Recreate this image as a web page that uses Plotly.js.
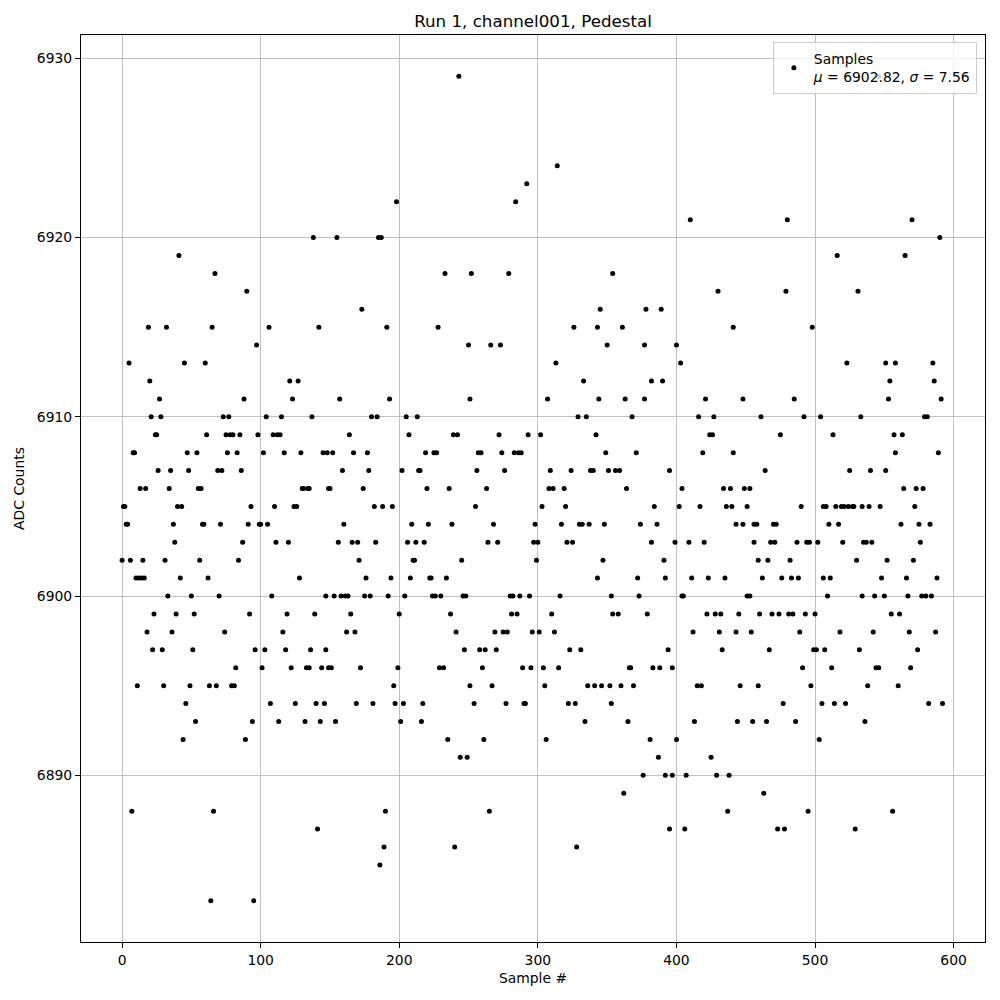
<!DOCTYPE html>
<html>
<head>
<meta charset="utf-8">
<script src="https://cdn.plot.ly/plotly-3.0.1.min.js"></script>
<style>body{margin:0;padding:0;background:#fff;}#chart{width:1000px;height:1000px;}</style>
</head>
<body>
<div id="chart"></div>
<script>
// Sample numbers (x) and ADC counts (y), in blocks of ~50 samples
const sampleNumbers = [
  0,1,2,3,4,5,6,7,8,9,10,11,12,13,14,15,16,17,18,19,20,21,22,23,24,25,26,27,28,29,30,31,32,33,34,35,36,37,38,39,40,41,42,43,44,45,46,47,48,
  49,50,51,52,53,54,55,56,57,58,59,60,61,62,63,64,65,66,67,68,69,70,71,72,73,74,75,76,77,78,79,80,81,82,83,84,85,86,87,88,89,90,91,92,93,94,95,96,97,98,99,
  100,101,102,103,104,105,106,107,108,109,110,111,112,113,114,115,116,117,118,119,120,121,122,123,124,125,126,127,128,129,130,131,132,133,134,135,135,136,137,138,139,140,141,142,143,144,145,146,147,147,148,149,149,
  150,151,152,153,154,155,156,157,158,159,160,161,162,163,164,165,166,167,168,169,170,171,172,173,174,175,176,177,178,179,180,181,182,183,184,185,186,187,188,189,190,191,192,193,194,195,196,197,198,199,200,201,
  202,203,204,205,206,207,208,209,210,211,212,213,214,215,216,217,218,219,220,221,222,223,224,225,226,227,228,229,230,232,233,234,235,236,237,238,239,240,241,242,243,244,245,246,247,248,249,250,251,252,251,
  254,255,256,257,258,259,260,261,262,263,264,265,266,267,268,269,270,271,272,273,274,275,276,277,278,279,280,281,282,283,284,285,286,287,288,289,290,291,292,293,294,295,296,297,298,299,300,301,302,303,
  304,305,306,307,308,309,310,311,312,313,314,315,316,317,319,320,321,322,323,324,325,326,327,328,329,330,331,332,333,334,335,336,337,338,340,341,342,343,343,344,345,346,347,348,349,350,351,352,353,353,354,354,
  356,358,359,360,361,362,363,364,365,366,367,368,369,371,372,373,374,376,377,377,378,379,381,382,382,383,384,386,387,388,389,390,391,392,392,394,395,395,397,397,399,400,400,402,403,404,404,
  405,406,407,409,410,411,412,413,415,416,417,418,419,420,421,422,423,424,425,426,427,428,429,430,431,432,433,434,435,436,437,438,439,440,441,441,443,443,444,445,446,448,448,449,451,451,453,453,454,455,456,456,
  458,459,459,460,461,462,463,464,465,466,467,468,469,470,471,472,473,474,475,476,477,478,479,480,481,482,483,484,485,486,487,488,489,490,491,492,493,494,495,496,497,498,499,500,501,502,503,504,505,506,506,507,
  508,509,510,511,512,513,514,515,516,517,518,519,520,521,522,523,524,525,527,528,529,530,531,532,533,534,534,535,536,537,538,539,540,541,542,543,544,546,547,548,550,551,551,552,553,554,555,556,557,558,558,
  546,560,561,562,563,564,565,566,567,568,569,570,571,572,573,574,575,576,577,578,579,580,581,582,583,584,585,586,587,588,589,590,591,592
];
const adcCounts = [
  6902,6905,6905,6904,6904,6913,6902,6888,6908,6908,6901,6895,6901,6906,6901,6902,6901,6906,6898,6915,6912,6910,6897,6899,6909,6909,6907,6911,6910,6897,6895,6902,6915,6900,6906,6907,6898,6904,6903,6899,6905,6919,6901,6905,6892,6913,6894,6908,6907,
  6895,6900,6897,6899,6893,6908,6906,6902,6906,6904,6904,6913,6909,6901,6895,6883,6915,6888,6918,6895,6907,6900,6904,6907,6910,6898,6909,6908,6910,6909,6895,6909,6895,6896,6908,6902,6909,6907,6903,6911,6892,6917,6904,6899,6905,6893,6883,6897,6914,6909,6904,
  6904,6896,6908,6897,6910,6904,6915,6894,6900,6909,6905,6903,6909,6893,6909,6910,6898,6908,6897,6899,6903,6912,6896,6911,6905,6894,6905,6912,6901,6908,6906,6906,6893,6896,6906,6906,6896,6897,6910,6920,6899,6894,6887,6915,6893,6896,6908,6894,6900,6897,6908,6906,6896,
  6906,6896,6908,6900,6893,6920,6903,6911,6900,6907,6904,6900,6898,6900,6909,6899,6903,6908,6898,6894,6903,6902,6896,6916,6906,6900,6901,6908,6907,6900,6910,6894,6905,6903,6910,6920,6885,6920,6905,6886,6888,6915,6900,6911,6901,6905,6895,6894,6922,6896,6899,6893,
  6907,6894,6900,6910,6903,6909,6901,6904,6902,6902,6903,6910,6907,6907,6893,6894,6903,6908,6906,6904,6901,6901,6900,6908,6900,6908,6915,6896,6900,6896,6918,6901,6892,6906,6899,6904,6909,6886,6898,6909,6929,6891,6902,6900,6897,6900,6891,6914,6911,6918,6895,
  6894,6905,6907,6908,6897,6908,6896,6892,6897,6906,6903,6888,6914,6895,6904,6898,6897,6903,6909,6914,6908,6898,6907,6894,6898,6918,6900,6899,6900,6908,6922,6899,6908,6900,6908,6896,6894,6894,6923,6909,6900,6896,6898,6903,6904,6902,6903,6898,6909,6905,
  6896,6895,6892,6911,6906,6907,6899,6906,6898,6913,6924,6896,6900,6904,6906,6905,6903,6894,6897,6907,6903,6915,6894,6886,6910,6904,6897,6904,6912,6893,6910,6895,6904,6907,6907,6895,6909,6915,6901,6911,6916,6895,6902,6904,6908,6914,6907,6895,6900,6894,6918,6899,
  6907,6899,6907,6895,6915,6889,6911,6906,6893,6896,6896,6910,6895,6908,6901,6900,6904,6890,6911,6914,6916,6899,6892,6912,6903,6896,6905,6904,6891,6896,6916,6912,6902,6901,6890,6897,6907,6887,6896,6890,6903,6914,6892,6905,6913,6906,6900,
  6900,6887,6890,6903,6921,6901,6898,6893,6895,6910,6905,6895,6908,6903,6911,6899,6901,6909,6891,6909,6910,6899,6890,6917,6898,6899,6897,6906,6901,6905,6888,6890,6906,6905,6915,6908,6904,6898,6893,6899,6895,6904,6911,6906,6905,6900,6906,6900,6898,6893,6904,6903,
  6904,6902,6895,6899,6910,6901,6889,6907,6893,6902,6897,6903,6899,6904,6903,6904,6887,6899,6909,6901,6894,6887,6917,6921,6899,6902,6901,6899,6911,6893,6903,6901,6898,6905,6896,6910,6899,6903,6888,6903,6895,6915,6897,6899,6897,6903,6892,6910,6894,6905,6901,6897,
  6905,6900,6904,6901,6896,6909,6894,6905,6919,6904,6898,6905,6903,6905,6894,6913,6905,6907,6905,6905,6887,6902,6917,6897,6910,6905,6900,6903,6893,6903,6895,6905,6907,6903,6898,6900,6896,6896,6905,6901,6900,6913,6907,6902,6911,6912,6899,6888,6909,6913,6908,
  6929,6895,6899,6904,6909,6906,6919,6901,6900,6898,6896,6921,6902,6905,6906,6897,6904,6903,6900,6906,6910,6900,6910,6894,6904,6900,6913,6912,6898,6901,6908,6920,6911,6894
];
const xTicks = [0, 100, 200, 300, 400, 500, 600];
const yTicks = [6890, 6900, 6910, 6920, 6930];
const seriesName = 'Samples<br><i>μ</i> = 6902.82, <i>σ</i> = 7.56';
const chartTitle = 'Run 1, channel001, Pedestal';

const trace = {
  x: sampleNumbers,
  y: adcCounts,
  type: 'scatter',
  mode: 'markers',
  name: seriesName,
  showlegend: true,
  marker: {color: 'black', size: 5}
};

const axisCommon = {
  showgrid: true, gridcolor: '#b0b0b0', gridwidth: 0.8,
  showline: true, mirror: true, linecolor: 'black', linewidth: 1,
  ticks: 'outside', ticklen: 5, tickcolor: 'black', tickwidth: 1,
  zeroline: false, tickfont: {size: 13.9}
};

const layout = {
  width: 1000, height: 1000,
  margin: {l: 81, r: 15, t: 35, b: 58},
  paper_bgcolor: 'white', plot_bgcolor: 'white',
  font: {family: 'DejaVu Sans', size: 13.9, color: 'black'},
  title: {text: chartTitle, font: {size: 16.7}, x: 0.533, xanchor: 'center', xref: 'container', y: 0.979, yanchor: 'middle', yref: 'container'},
  xaxis: Object.assign({}, axisCommon, {range: [-29.65, 622.65], tickmode: 'array', tickvals: xTicks, ticktext: xTicks.map(String), title: {text: 'Sample #', font: {size: 13.9}, standoff: 6}}),
  yaxis: Object.assign({}, axisCommon, {range: [6880.7, 6931.3], tickmode: 'array', tickvals: yTicks, ticktext: yTicks.map(String), title: {text: 'ADC Counts', font: {size: 13.9}, standoff: 8}}),
  legend: {x: 0.991, xanchor: 'right', y: 0.992, yanchor: 'top', bgcolor: 'rgba(255,255,255,0.8)', bordercolor: '#cccccc', borderwidth: 1, font: {size: 13.9}, tracegroupgap: 0},
  showlegend: true
};

Plotly.newPlot('chart', [trace], layout, {displayModeBar: false, staticPlot: true});
</script>
</body>
</html>
